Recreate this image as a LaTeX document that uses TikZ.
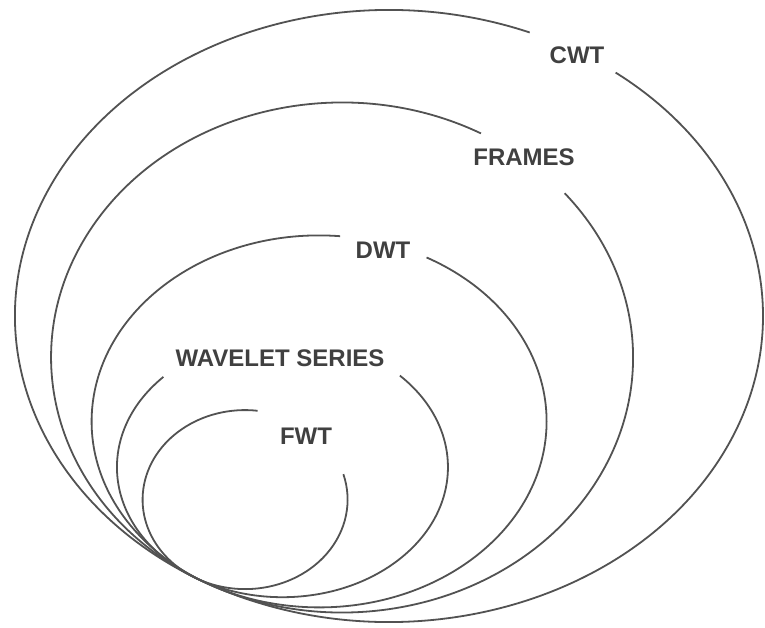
\documentclass[tikz,border=0pt]{standalone}
\usepackage{fontspec}
\setmainfont{Liberation Sans}
\begin{document}
\begin{tikzpicture}[x=1pt,y=1pt,
  ring/.style={draw=black!68, line width=1.8pt},
  lbl/.style={text=black!75, font=\fontsize{24}{24}\selectfont\bfseries, inner sep=0pt}]
\useasboundingbox (0,0) rectangle (765,-628);
% CWT
\draw[ring] (389,-316) ++(67.9:374pt and 306pt)
  arc[start angle=67.9, end angle=412.7, x radius=374pt, y radius=306pt];
% FRAMES
\draw[ring] (342.1,-357.5) ++(61.5:291pt and 255pt)
  arc[start angle=61.5, end angle=400.1, x radius=291pt, y radius=255pt];
% DWT
\draw[ring] (319.1,-421.4) ++(84.7:227.5pt and 186pt)
  arc[start angle=84.7, end angle=421.8, x radius=227.5pt, y radius=186pt];
% WAVELET SERIES
\draw[ring] (282.45,-467.2) ++(136:165.5pt and 130pt)
  arc[start angle=136, end angle=404.8, x radius=165.5pt, y radius=130pt];
% FWT
\draw[ring] (245.1,-499.6) ++(83:102.5pt and 89.5pt)
  arc[start angle=83, end angle=376.5, x radius=102.5pt, y radius=89.5pt];
\node[lbl] (cwt) at (577,-55) {CWT};
\node[lbl] (frames) at (524,-157) {FRAMES};
\node[lbl] (dwt) at (383,-250) {DWT};
\node[lbl] (ws) at (280,-358) {WAVELET SERIES};
\node[lbl] (fwt) at (306,-436) {FWT};
\end{tikzpicture}
\end{document}
